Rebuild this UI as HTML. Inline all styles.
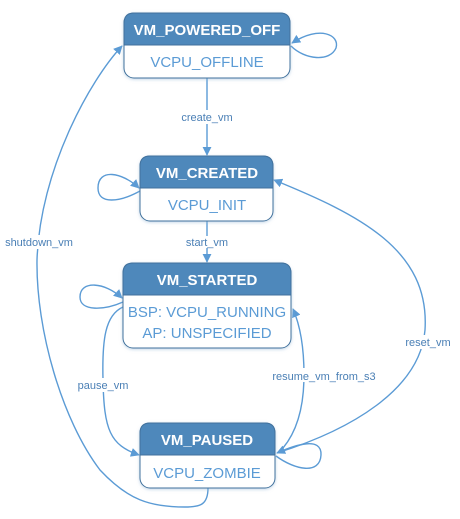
<!DOCTYPE html>
<html><head><meta charset="utf-8"><style>
html,body{margin:0;padding:0;background:#fff;}
svg{display:block}
.h{font-family:"Liberation Sans",sans-serif;font-weight:bold;font-size:15px;fill:#fff}
.b{font-family:"Liberation Sans",sans-serif;font-size:15px;fill:#5b9bd5}
.l{font-family:"Liberation Sans",sans-serif;font-size:11px;fill:#4a7fb5}
.e{fill:none;stroke:#5b9bd5;stroke-width:1.4}
</style></head><body>
<svg width="460" height="519" viewBox="0 0 460 519" xmlns="http://www.w3.org/2000/svg">
<defs>
<marker id="a" viewBox="0 0 10 10" refX="9" refY="5" markerWidth="9" markerHeight="9" orient="auto" markerUnits="userSpaceOnUse"><path d="M0,0L10,5L0,10z" fill="#5b9bd5"/></marker>
<filter id="s" x="-10%" y="-10%" width="120%" height="130%"><feDropShadow dx="0" dy="1" stdDeviation="1.5" flood-color="#9bbbd8" flood-opacity="0.6"/></filter>
</defs>
<line class="e" x1="207" y1="78" x2="207" y2="155" marker-end="url(#a)"/>
<rect x="178" y="110" width="60" height="14" fill="#fff"/>
<text class="l" x="207" y="121" text-anchor="middle">create_vm</text>
<line class="e" x1="207" y1="221" x2="207" y2="262" marker-end="url(#a)"/>
<rect x="183" y="236" width="48" height="12" fill="#fff"/>
<text class="l" x="207" y="246" text-anchor="middle">start_vm</text>
<path class="e" d="M291,46 C305,60 330,62 336,48 C340,35 320,25 292,43" marker-end="url(#a)"/>
<path class="e" d="M140,191 C120,202 98,205 98,188 C98,168 122,172 139,188" marker-end="url(#a)"/>
<path class="e" d="M123,302 C105,310 80,312 80,297 C80,280 105,282 122,298" marker-end="url(#a)"/>
<path class="e" d="M276,456 C295,470 320,475 321,455 C322,436 295,445 277,453" marker-end="url(#a)"/>
<path class="e" d="M208,488 C208,505 200,507 185,507 C150,507 128,500 100,470 C62,420 36,330 37,260 C40,170 90,80 122,46" marker-end="url(#a)"/>
<rect x="3" y="235" width="72" height="14" fill="#fff"/>
<text class="l" x="39" y="246" text-anchor="middle">shutdown_vm</text>
<path class="e" d="M123,307 C105,315 102,340 103,380 C104,430 110,445 139,455" marker-end="url(#a)"/>
<rect x="78" y="378" width="50" height="14" fill="#fff"/>
<text class="l" x="103" y="389" text-anchor="middle">pause_vm</text>
<path class="e" d="M283,448 C298,430 304,405 304,375 C304,345 300,325 293,309" marker-end="url(#a)"/>
<rect x="272" y="368" width="104" height="14" fill="#fff"/>
<text class="l" x="324" y="380" text-anchor="middle">resume_vm_from_s3</text>
<path class="e" d="M277,453 C350,430 420,390 425,330 C430,250 360,215 274,180" marker-end="url(#a)"/>
<rect x="405" y="335" width="46" height="14" fill="#fff"/>
<text class="l" x="428" y="346" text-anchor="middle">reset_vm</text>
<g filter="url(#s)">
<rect x="124" y="13" width="166" height="65" rx="10" fill="#fff" stroke="#41719c"/>
<rect x="140" y="156" width="133" height="65" rx="10" fill="#fff" stroke="#41719c"/>
<rect x="123" y="263" width="168" height="85" rx="10" fill="#fff" stroke="#41719c"/>
<rect x="140" y="423" width="135" height="65" rx="10" fill="#fff" stroke="#41719c"/>
</g>
<path d="M124,45 V23 Q124,13 134,13 H280 Q290,13 290,23 V45Z" fill="#4e88bb" stroke="#41719c"/>
<path d="M140,188 V166 Q140,156 150,156 H263 Q273,156 273,166 V188Z" fill="#4e88bb" stroke="#41719c"/>
<path d="M123,295 V273 Q123,263 133,263 H281 Q291,263 291,273 V295Z" fill="#4e88bb" stroke="#41719c"/>
<path d="M140,455 V433 Q140,423 150,423 H265 Q275,423 275,433 V455Z" fill="#4e88bb" stroke="#41719c"/>
<text class="h" x="207" y="35" text-anchor="middle">VM_POWERED_OFF</text>
<text class="b" x="207" y="67" text-anchor="middle">VCPU_OFFLINE</text>
<text class="h" x="207" y="178" text-anchor="middle">VM_CREATED</text>
<text class="b" x="207" y="210" text-anchor="middle">VCPU_INIT</text>
<text class="h" x="207" y="285" text-anchor="middle">VM_STARTED</text>
<text class="b" x="207" y="317" text-anchor="middle">BSP: VCPU_RUNNING</text>
<text class="b" x="207" y="338" text-anchor="middle">AP: UNSPECIFIED</text>
<text class="h" x="207" y="445" text-anchor="middle">VM_PAUSED</text>
<text class="b" x="207" y="478" text-anchor="middle">VCPU_ZOMBIE</text>
</svg>
</body></html>
